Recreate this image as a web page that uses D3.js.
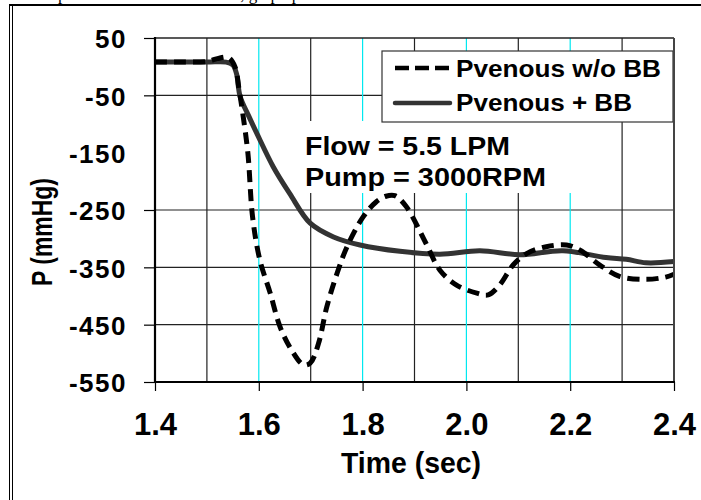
<!DOCTYPE html>
<html>
<head>
<meta charset="utf-8">
<script src="https://cdn.jsdelivr.net/npm/d3@7"></script>
<style>
  body { margin: 0; background: #fff; }
  text { font-family: "Liberation Sans", Arial, sans-serif; font-weight: bold; fill: #000; }
</style>
</head>
<body>
<svg id="chart" width="701" height="500"></svg>
<script>
// Pvenous w/o BB (dashed)
var timeDash = [1.40, 1.45, 1.50, 1.52, 1.541, 1.554, 1.562, 1.569, 1.579, 1.588, 1.602, 1.622, 1.641, 1.663, 1.686, 1.699, 1.715, 1.731, 1.751, 1.770, 1.801, 1.826, 1.845, 1.862, 1.884, 1.922, 1.949, 1.981, 2.020, 2.042, 2.064, 2.090, 2.116, 2.154, 2.193, 2.219, 2.257, 2.296, 2.346, 2.384, 2.400];
var pDash    = [8, 8, 9, 14, 16, 0, -40, -81, -151, -262, -337, -395, -454, -494, -520, -517, -483, -419, -360, -314, -262, -236, -226, -225, -244, -308, -355, -381, -395, -398, -381, -346, -326, -314, -311, -320, -346, -366, -371, -367, -362];

// Pvenous + BB (solid)
var timeSolid = [1.40, 1.50, 1.537, 1.550, 1.557, 1.564, 1.580, 1.596, 1.628, 1.660, 1.699, 1.744, 1.795, 1.872, 1.949, 2.026, 2.103, 2.186, 2.269, 2.308, 2.346, 2.400];
var pSolid    = [8, 8, 8, 3, -12, -52, -85, -116, -175, -222, -273, -297, -311, -322, -327, -321, -328, -321, -333, -336, -342, -340];

var yTicks = [50, -50, -150, -250, -350, -450, -550];
var xTicks = [1.4, 1.6, 1.8, 2.0, 2.2, 2.4];
var hGrid = [-50, -250, -350, -450];
var vGridMinor = [1.5, 1.7, 1.9, 2.1, 2.3];
var vGridMajor = [1.6, 1.8, 2.0, 2.2];
var legendNames = ["Pvenous w/o BB", "Pvenous + BB"];
var noteLines = ["Flow = 5.5 LPM", "Pump = 3000RPM"];

var svg = d3.select("#chart");
var pLeft = 155, pRight = 674, pTop = 38, pBottom = 382;

var x = d3.scaleLinear().domain([1.4, 2.4]).range([pLeft, pRight]);
var y = d3.scaleLinear().domain([-550, 50]).range([pBottom, pTop]);

// page frame + caption line of the page above (only its descenders show)
svg.append("text").attr("x", 58).attr("y", 0)
  .style("font-family", "'Liberation Serif', serif").style("font-weight", "normal").style("font-size", "17px")
  .text("pressure of the venous line, graph plotted");
svg.append("line").attr("x1", 9).attr("x2", 701).attr("y1", 5).attr("y2", 5).attr("stroke", "#000").attr("stroke-width", 2);
svg.append("line").attr("x1", 9.5).attr("x2", 9.5).attr("y1", 5).attr("y2", 500).attr("stroke", "#000");
svg.append("line").attr("x1", 12.5).attr("x2", 12.5).attr("y1", 5).attr("y2", 500).attr("stroke", "#000");

// grid
var g = svg.append("g");
g.selectAll(".hg").data(hGrid).enter().append("line")
  .attr("x1", pLeft).attr("x2", pRight)
  .attr("y1", function(d) { return y(d); }).attr("y2", function(d) { return y(d); })
  .attr("stroke", "#222").attr("stroke-width", 1.2);
g.selectAll(".vmin").data(vGridMinor).enter().append("line")
  .attr("x1", function(d) { return x(d); }).attr("x2", function(d) { return x(d); })
  .attr("y1", pTop).attr("y2", pBottom)
  .attr("stroke", "#222").attr("stroke-width", 1.2);
g.selectAll(".vmaj").data(vGridMajor).enter().append("line")
  .attr("x1", function(d) { return x(d); }).attr("x2", function(d) { return x(d); })
  .attr("y1", pTop).attr("y2", pBottom)
  .attr("stroke", "#00e8f0").attr("stroke-width", 1.2);

// white box behind the note
svg.append("rect").attr("x", 295).attr("y", 121).attr("width", 310).attr("height", 72).attr("fill", "#fff");
svg.selectAll(".note").data(noteLines).enter().append("text")
  .attr("x", 305).attr("y", function(d, i) { return 155 + i * 31; })
  .attr("textLength", function(d, i) { return i ? 241 : 205; })
  .attr("lengthAdjust", "spacingAndGlyphs")
  .style("font-size", "25.5px")
  .text(function(d) { return d; });

// legend
svg.append("rect").attr("x", 382).attr("y", 51).attr("width", 291).attr("height", 71)
  .attr("fill", "#fff").attr("stroke", "#333").attr("stroke-width", 1.2);
svg.append("line").attr("x1", 395).attr("x2", 450).attr("y1", 68).attr("y2", 68)
  .attr("stroke", "#000").attr("stroke-width", 4.5).attr("stroke-dasharray", "14,6");
svg.append("line").attr("x1", 395).attr("x2", 450).attr("y1", 103).attr("y2", 103)
  .attr("stroke", "#333").attr("stroke-width", 4.5).attr("stroke-linecap", "round");
svg.selectAll(".leg").data(legendNames).enter().append("text")
  .attr("x", 456).attr("y", function(d, i) { return 77 + i * 34; })
  .attr("textLength", function(d, i) { return i ? 176 : 205; })
  .attr("lengthAdjust", "spacingAndGlyphs")
  .style("font-size", "23px")
  .text(function(d) { return d; });

// data lines
var line = d3.line()
  .x(function(d) { return x(d[0]); })
  .y(function(d) { return y(d[1]); })
  .curve(d3.curveCatmullRom.alpha(0.5));

svg.append("path").datum(d3.zip(timeSolid, pSolid))
  .attr("d", line).attr("fill", "none")
  .attr("stroke", "#333").attr("stroke-width", 5);
svg.append("path").datum(d3.zip(timeDash, pDash))
  .attr("d", line).attr("fill", "none")
  .attr("stroke", "#000").attr("stroke-width", 5).attr("stroke-dasharray", "12,7");

// plot frame
svg.append("line").attr("x1", pLeft).attr("x2", pRight).attr("y1", pTop).attr("y2", pTop).attr("stroke", "#222").attr("stroke-width", 1.5);
svg.append("line").attr("x1", pRight).attr("x2", pRight).attr("y1", pTop).attr("y2", pBottom).attr("stroke", "#444").attr("stroke-width", 2);

// axes (plain hyphen for negatives, like the original)
var yAxis = svg.append("g").attr("transform", "translate(" + pLeft + ",0)")
  .call(d3.axisLeft(y).tickValues(yTicks).tickFormat(function(d) { return String(d); })
    .tickSize(11).tickPadding(17));
yAxis.select(".domain").remove();
yAxis.selectAll(".tick line").attr("stroke", "#000").attr("stroke-width", 1.2)
  .filter(function(d) { return d === -150; }).remove();
yAxis.selectAll(".tick text").attr("dy", "0.38em")
  .style("font-size", "26px").style("letter-spacing", "1.5px")
  .attr("font-family", null);

var xAxis = svg.append("g").attr("transform", "translate(0," + pBottom + ")")
  .call(d3.axisBottom(x).tickValues(xTicks).tickFormat(d3.format(".1f")).tickSize(9).tickPadding(22));
xAxis.select(".domain").remove();
xAxis.selectAll(".tick line").attr("stroke", "#000").attr("stroke-width", 1.2);
xAxis.selectAll(".tick text").style("font-size", "31px").attr("font-family", null);

svg.append("line").attr("x1", pLeft).attr("x2", pLeft).attr("y1", pTop - 1).attr("y2", pBottom + 1).attr("stroke", "#000").attr("stroke-width", 2.2);
svg.append("line").attr("x1", pLeft - 1).attr("x2", pRight + 1).attr("y1", pBottom).attr("y2", pBottom).attr("stroke", "#000").attr("stroke-width", 2.2);

// axis titles
svg.append("text").attr("text-anchor", "middle")
  .attr("transform", "translate(52,232) rotate(-90)")
  .attr("textLength", 108).attr("lengthAdjust", "spacingAndGlyphs")
  .style("font-size", "29px")
  .text("P (mmHg)");
svg.append("text").attr("text-anchor", "middle")
  .attr("x", 411).attr("y", 473)
  .attr("textLength", 140).attr("lengthAdjust", "spacingAndGlyphs")
  .style("font-size", "30px")
  .text("Time (sec)");
</script>
</body>
</html>
